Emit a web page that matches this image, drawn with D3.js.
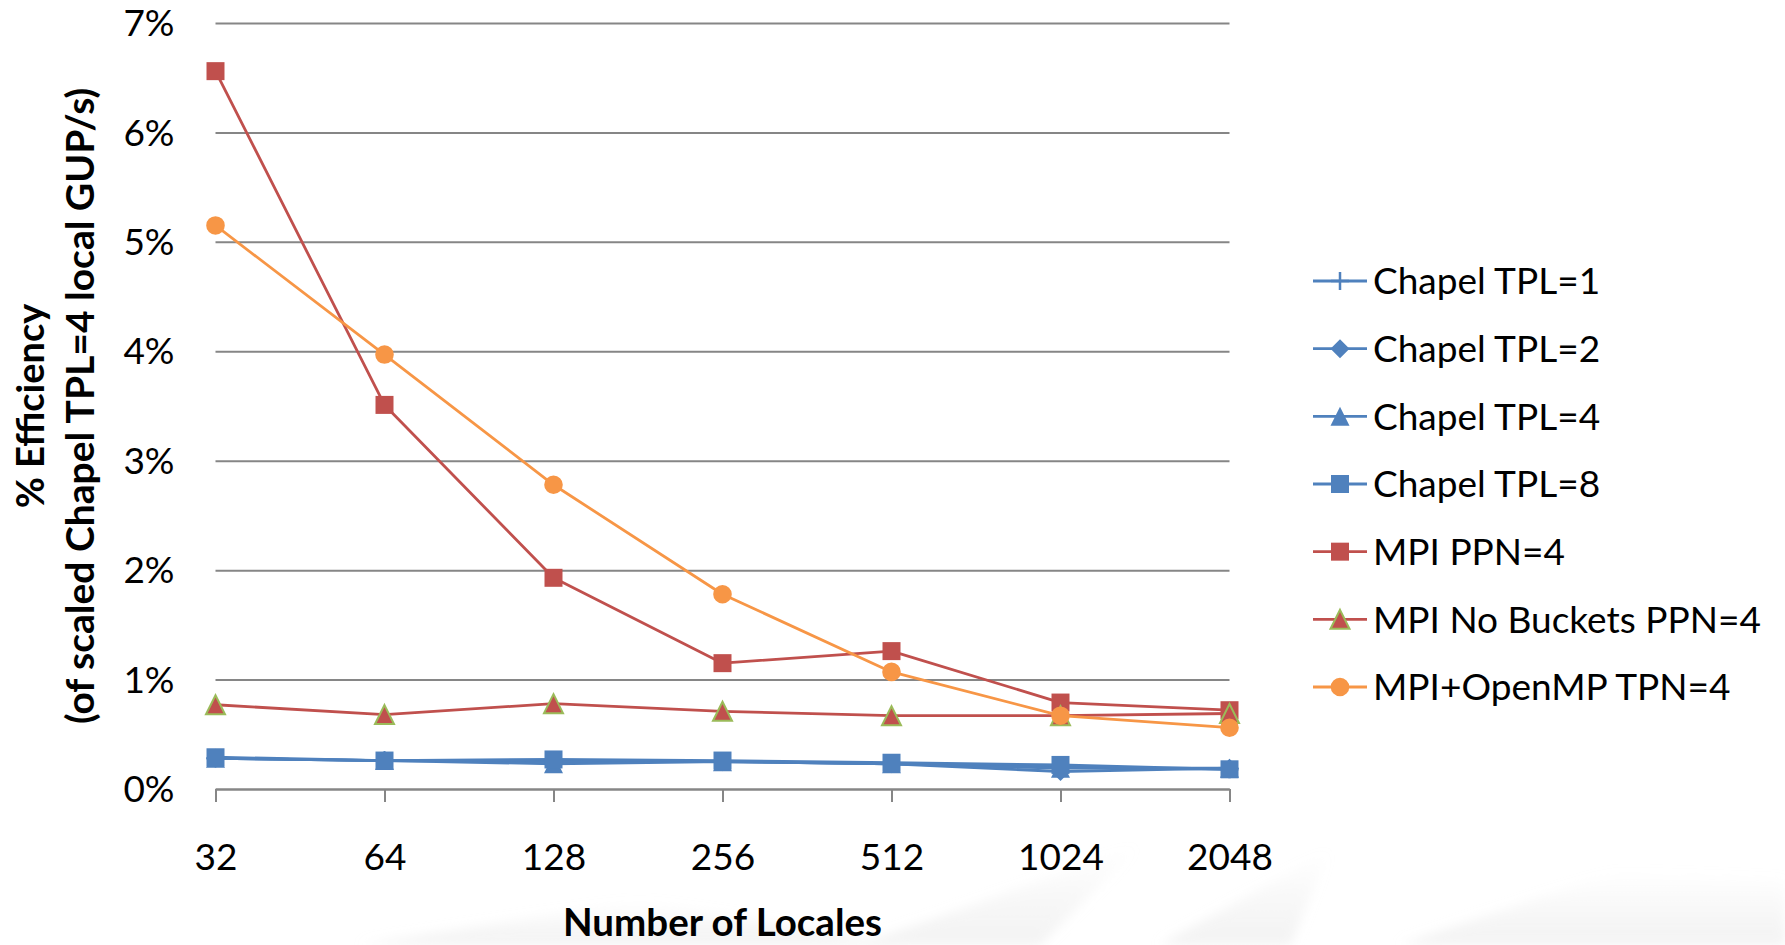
<!DOCTYPE html>
<html>
<head>
<meta charset="utf-8">
<script src="https://cdn.jsdelivr.net/npm/d3@7"></script>
<style>
  html, body { margin: 0; padding: 0; background: #ffffff; }
  svg { display: block; }
  text { font-family: Lato, "Open Sans", "Liberation Sans", sans-serif; fill: #000; }
</style>
</head>
<body>
<svg id="chart" width="1785" height="945"></svg>
<script>
// Categories (number of locales) and y-axis ticks
const locales = ["32", "64", "128", "256", "512", "1024", "2048"];
const yTicks = [0, 1, 2, 3, 4, 5, 6, 7];

// Efficiency values, in percent
const chapelTPL1 = [0.28, 0.26, 0.26, 0.25, 0.23, 0.20, 0.18];
const chapelTPL2 = [0.28, 0.26, 0.25, 0.25, 0.23, 0.16, 0.19];
const chapelTPL4 = [0.28, 0.26, 0.23, 0.25, 0.23, 0.19, 0.19];
const chapelTPL8 = [0.29, 0.26, 0.27, 0.26, 0.24, 0.22, 0.18];
const mpiPPN4 = [6.56, 3.51, 1.93, 1.15, 1.26, 0.79, 0.72];
const mpiNoBucketsPPN4 = [0.77, 0.68, 0.78, 0.71, 0.67, 0.67, 0.69];
const mpiOpenMPTPN4 = [5.15, 3.97, 2.78, 1.78, 1.07, 0.67, 0.56];

const seriesNames = [
  "Chapel TPL=1", "Chapel TPL=2", "Chapel TPL=4", "Chapel TPL=8",
  "MPI PPN=4", "MPI No Buckets PPN=4", "MPI+OpenMP TPN=4"
];

const blue = "#4F81BD", red = "#C0504D", orange = "#F79646", green = "#9BBB59";

const series = [
  { name: seriesNames[0], values: chapelTPL1, color: blue, marker: "plus" },
  { name: seriesNames[1], values: chapelTPL2, color: blue, marker: "diamond" },
  { name: seriesNames[2], values: chapelTPL4, color: blue, marker: "triangle" },
  { name: seriesNames[3], values: chapelTPL8, color: blue, marker: "square" },
  { name: seriesNames[4], values: mpiPPN4, color: red, marker: "square" },
  { name: seriesNames[5], values: mpiNoBucketsPPN4, color: red, marker: "triangle", outline: green },
  { name: seriesNames[6], values: mpiOpenMPTPN4, color: orange, marker: "circle" }
];

const svg = d3.select("#chart");

// Faint light-gray rays of the slide backdrop along the bottom edge
const defs = svg.append("defs");
defs.append("filter").attr("id", "soft")
  .attr("x", "-20%").attr("y", "-20%").attr("width", "140%").attr("height", "140%")
  .append("feGaussianBlur").attr("stdDeviation", 6);
const rayGrad = defs.append("linearGradient").attr("id", "rayFade")
  .attr("x1", 0).attr("y1", 1).attr("x2", 0).attr("y2", 0);
rayGrad.append("stop").attr("offset", 0).attr("stop-color", "#e2e2e2").attr("stop-opacity", 0.45);
rayGrad.append("stop").attr("offset", 1).attr("stop-color", "#e2e2e2").attr("stop-opacity", 0);
const backdrop = svg.append("g").attr("filter", "url(#soft)");
const rays = [
  [[360, 945], [640, 900], [900, 945]],
  [[860, 945], [1140, 845], [1040, 945]],
  [[1160, 945], [1330, 850], [1290, 945]],
  [[1400, 945], [1620, 870], [1785, 880], [1785, 945]]
];
backdrop.selectAll("path").data(rays).join("path")
  .attr("d", d => d3.line()(d) + "Z")
  .attr("fill", "url(#rayFade)");

const plot = { left: 215.5, right: 1229.5, top: 23, bottom: 789 };

const x = d3.scalePoint().domain(locales).range([plot.left, plot.right]).padding(0);
const y = d3.scaleLinear().domain([0, 7]).range([plot.bottom, plot.top]);

const gridColor = "#868686";

// Horizontal gridlines with percentage labels
const yAxis = svg.append("g")
  .attr("transform", `translate(${plot.left},0)`)
  .call(d3.axisLeft(y).tickValues(yTicks).tickFormat(d => d + "%")
    .tickSize(-(plot.right - plot.left)).tickPadding(41));
yAxis.select(".domain").remove();
yAxis.selectAll(".tick line").attr("stroke", gridColor).attr("stroke-width", 2);
yAxis.selectAll(".tick text")
  .attr("font-size", 37).attr("fill", "#000").attr("dy", "0.34em")
  .style("font-family", "Lato, 'Open Sans', sans-serif");

// Category axis along the bottom
const xAxis = svg.append("g")
  .attr("transform", `translate(0,${plot.bottom})`)
  .call(d3.axisBottom(x).tickSize(13).tickSizeOuter(0).tickPadding(42));
xAxis.select(".domain").attr("stroke", gridColor).attr("stroke-width", 2);
xAxis.selectAll(".tick line").attr("stroke", gridColor).attr("stroke-width", 2);
xAxis.selectAll(".tick text")
  .attr("font-size", 37).attr("fill", "#000")
  .style("font-family", "Lato, 'Open Sans', sans-serif");

// Axis titles
svg.append("text")
  .attr("x", (plot.left + plot.right) / 2).attr("y", 936)
  .attr("text-anchor", "middle")
  .attr("font-size", 38.5).attr("font-weight", "bold")
  .text("Number of Locales");

const yMid = (plot.top + plot.bottom) / 2;
svg.append("text")
  .attr("transform", `translate(44,${yMid}) rotate(-90)`)
  .attr("text-anchor", "middle")
  .attr("font-size", 38).attr("font-weight", "bold")
  .text("% Efficiency");
svg.append("text")
  .attr("transform", `translate(94,${yMid}) rotate(-90)`)
  .attr("text-anchor", "middle")
  .attr("font-size", 39).attr("font-weight", "bold")
  .text("(of scaled Chapel TPL=4 local GUP/s)");

// Marker shapes, centred on the origin
function markerPath(kind) {
  const p = d3.path();
  if (kind === "square") {
    const h = 9;
    p.rect(-h, -h, 2 * h, 2 * h);
  } else if (kind === "diamond") {
    const h = 9.5;
    p.moveTo(0, -h); p.lineTo(h, 0); p.lineTo(0, h); p.lineTo(-h, 0); p.closePath();
  } else if (kind === "triangle") {
    const h = 9.5;
    p.moveTo(0, -h); p.lineTo(h, h); p.lineTo(-h, h); p.closePath();
  } else if (kind === "circle") {
    p.arc(0, 0, 9.3, 0, 2 * Math.PI);
  } else if (kind === "plus") {
    const h = 9;
    p.moveTo(-h, 0); p.lineTo(h, 0); p.moveTo(0, -h); p.lineTo(0, h);
  }
  return p.toString();
}

function drawMarker(sel, s) {
  sel.attr("d", markerPath(s.marker));
  if (s.marker === "plus") {
    sel.attr("fill", "none").attr("stroke", s.color).attr("stroke-width", 2.5);
  } else if (s.outline) {
    sel.attr("fill", s.color).attr("stroke", s.outline).attr("stroke-width", 2);
  } else {
    sel.attr("fill", s.color).attr("stroke", "none");
  }
}

const line = d3.line().x((d, i) => x(locales[i])).y(d => y(d));

// Series lines and markers, drawn in legend order
const seriesG = svg.append("g").selectAll("g").data(series).join("g");
seriesG.append("path")
  .attr("d", s => line(s.values))
  .attr("fill", "none")
  .attr("stroke", s => s.color)
  .attr("stroke-width", 2.8)
  .attr("stroke-linejoin", "round");
seriesG.each(function (s) {
  d3.select(this).selectAll("path.mk").data(s.values).join("path")
    .attr("class", "mk")
    .attr("transform", (d, i) => `translate(${x(locales[i])},${y(d)})`)
    .call(drawMarker, s);
});

// Legend
const legend = svg.append("g");
const rowY = d3.scaleLinear().domain([0, 6]).range([281, 687]);
const legendRows = legend.selectAll("g").data(series).join("g")
  .attr("transform", (s, i) => `translate(0,${rowY(i)})`);
legendRows.append("line")
  .attr("x1", 1313).attr("x2", 1367)
  .attr("stroke", s => s.color).attr("stroke-width", 2.8);
legendRows.append("path")
  .attr("transform", "translate(1340,0)")
  .each(function (s) { d3.select(this).call(drawMarker, s); });
legendRows.append("text")
  .attr("x", 1373).attr("y", 0).attr("dy", "0.36em")
  .attr("font-size", 37)
  .text(s => s.name);
</script>
</body>
</html>
